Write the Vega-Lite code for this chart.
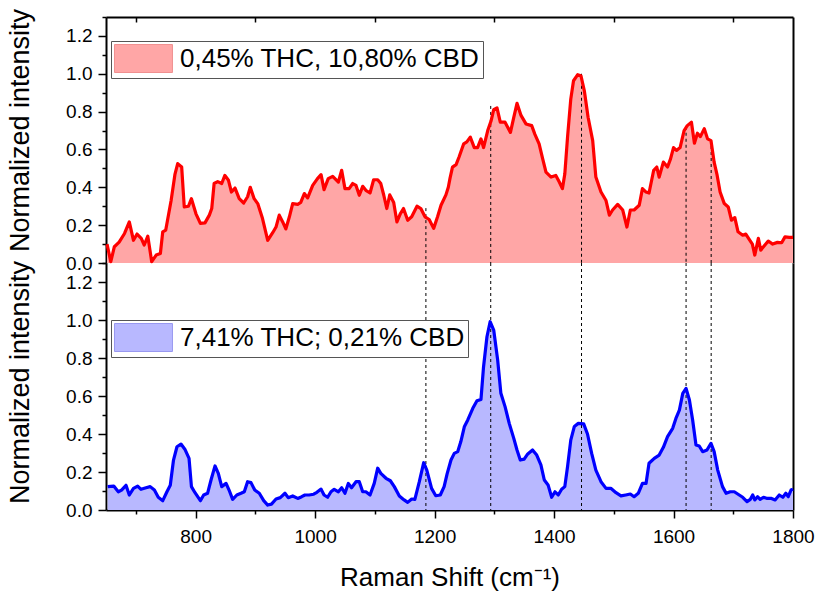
{
  "$schema": "https://vega.github.io/schema/vega-lite/v6.json",
  "background": "white",
  "padding": {"left": 6, "top": 8, "right": 5, "bottom": 2},
  "spacing": 0,
  "bounds": "flush",
  "config": {
    "view": {"stroke": null},
    "font": "Liberation Sans",
    "axis": {
      "domainColor": "black", "domainWidth": 2, "tickColor": "black", "tickWidth": 1.5,
      "labelColor": "black", "labelFont": "Liberation Sans", "labelFontSize": 19,
      "titleFont": "Liberation Sans", "titleFontSize": 26, "titleFontWeight": "normal", "titleColor": "black",
      "grid": false, "labelOverlap": false, "labelBound": false, "labelFlush": false
    },
    "legend": {
      "orient": "none", "labelFont": "Liberation Sans", "labelFontSize": 26, "labelColor": "black",
      "labelLimit": 600, "strokeColor": "#555555", "padding": 3, "fillColor": "white",
      "symbolType": "M-1,-1H3.14V1H-1Z", "symbolSize": 784, "labelOffset": 37, "symbolStrokeWidth": 1
    }
  },
  "resolve": {"scale": {"color": "independent"}, "legend": {"color": "independent"}},
  "datasets": {
    "top": [
      {"x":651.7,"y":0.10},{"x":658,"y":0.007},{"x":664,"y":0.086},{"x":672,"y":0.11},{"x":681,"y":0.156},{"x":689,"y":0.217},{"x":696,"y":0.12},{"x":702,"y":0.153},{"x":709,"y":0.13},{"x":714,"y":0.095},{"x":720,"y":0.142},{"x":726.5,"y":0.007},{"x":734,"y":0.042},{"x":741,"y":0.05},{"x":745,"y":0.165},{"x":750,"y":0.174},{"x":759,"y":0.33},{"x":765.5,"y":0.47},{"x":770,"y":0.525},{"x":776.7,"y":0.507},{"x":781,"y":0.296},{"x":788,"y":0.30},{"x":793,"y":0.34},{"x":800.6,"y":0.26},{"x":808,"y":0.209},{"x":815.7,"y":0.212},{"x":823,"y":0.253},{"x":827,"y":0.288},{"x":831,"y":0.42},{"x":837,"y":0.43},{"x":843.7,"y":0.42},{"x":849,"y":0.463},{"x":855,"y":0.437},{"x":860,"y":0.375},{"x":866,"y":0.396},{"x":873,"y":0.34},{"x":880.5,"y":0.317},{"x":887,"y":0.35},{"x":891.5,"y":0.40},{"x":898,"y":0.34},{"x":904,"y":0.314},{"x":912,"y":0.235},{"x":920.7,"y":0.12},{"x":929,"y":0.16},{"x":934.6,"y":0.19},{"x":940,"y":0.253},{"x":945.8,"y":0.217},{"x":951,"y":0.18},{"x":957,"y":0.244},{"x":962.5,"y":0.314},{"x":971,"y":0.31},{"x":976,"y":0.32},{"x":982,"y":0.367},{"x":987.6,"y":0.344},{"x":996,"y":0.41},{"x":1004,"y":0.446},{"x":1010,"y":0.467},{"x":1015,"y":0.388},{"x":1022,"y":0.446},{"x":1029.5,"y":0.458},{"x":1039,"y":0.428},{"x":1044.5,"y":0.49},{"x":1050,"y":0.393},{"x":1057,"y":0.393},{"x":1063,"y":0.42},{"x":1068.5,"y":0.41},{"x":1074,"y":0.358},{"x":1079.7,"y":0.405},{"x":1085,"y":0.384},{"x":1092,"y":0.37},{"x":1098,"y":0.44},{"x":1104.8,"y":0.44},{"x":1110,"y":0.42},{"x":1115,"y":0.358},{"x":1120,"y":0.288},{"x":1125,"y":0.36},{"x":1131.6,"y":0.32},{"x":1137,"y":0.217},{"x":1142.6,"y":0.26},{"x":1148,"y":0.288},{"x":1155,"y":0.226},{"x":1161.7,"y":0.244},{"x":1170.6,"y":0.30},{"x":1177,"y":0.288},{"x":1184,"y":0.244},{"x":1191,"y":0.23},{"x":1198.5,"y":0.183},{"x":1205,"y":0.244},{"x":1210.8,"y":0.305},{"x":1219,"y":0.36},{"x":1223,"y":0.40},{"x":1226,"y":0.45},{"x":1230,"y":0.507},{"x":1236,"y":0.52},{"x":1241,"y":0.56},{"x":1248.8,"y":0.63},{"x":1254,"y":0.64},{"x":1259.8,"y":0.665},{"x":1266.5,"y":0.61},{"x":1272,"y":0.61},{"x":1277.7,"y":0.656},{"x":1282,"y":0.61},{"x":1289,"y":0.70},{"x":1294.5,"y":0.75},{"x":1299,"y":0.81},{"x":1304.5,"y":0.82},{"x":1310,"y":0.744},{"x":1318,"y":0.744},{"x":1327,"y":0.69},{"x":1332.6,"y":0.77},{"x":1338,"y":0.844},{"x":1344.7,"y":0.78},{"x":1353,"y":0.735},{"x":1362.6,"y":0.726},{"x":1368,"y":0.68},{"x":1375,"y":0.63},{"x":1381,"y":0.55},{"x":1386.5,"y":0.48},{"x":1395,"y":0.454},{"x":1403,"y":0.463},{"x":1408.8,"y":0.428},{"x":1414,"y":0.393},{"x":1418,"y":0.47},{"x":1422.6,"y":0.665},{"x":1428,"y":0.866},{"x":1432.6,"y":0.963},{"x":1439.6,"y":0.995},{"x":1445,"y":0.99},{"x":1450.7,"y":0.91},{"x":1457,"y":0.77},{"x":1464.7,"y":0.647},{"x":1470,"y":0.454},{"x":1478.6,"y":0.375},{"x":1487,"y":0.33},{"x":1492.6,"y":0.253},{"x":1498,"y":0.28},{"x":1506.5,"y":0.31},{"x":1515,"y":0.28},{"x":1522,"y":0.19},{"x":1527.7,"y":0.28},{"x":1534,"y":0.28},{"x":1542.6,"y":0.305},{"x":1548,"y":0.393},{"x":1554,"y":0.375},{"x":1559,"y":0.37},{"x":1566.8,"y":0.49},{"x":1572,"y":0.507},{"x":1576,"y":0.454},{"x":1583,"y":0.533},{"x":1590,"y":0.507},{"x":1595,"y":0.55},{"x":1600,"y":0.61},{"x":1605,"y":0.595},{"x":1611,"y":0.61},{"x":1617.7,"y":0.70},{"x":1623,"y":0.726},{"x":1630,"y":0.744},{"x":1635,"y":0.633},{"x":1640,"y":0.686},{"x":1645,"y":0.668},{"x":1651.5,"y":0.71},{"x":1657,"y":0.656},{"x":1662.7,"y":0.647},{"x":1668,"y":0.533},{"x":1672.6,"y":0.47},{"x":1678,"y":0.375},{"x":1685,"y":0.314},{"x":1691.6,"y":0.296},{"x":1697,"y":0.226},{"x":1702.6,"y":0.24},{"x":1708,"y":0.165},{"x":1715.8,"y":0.147},{"x":1721,"y":0.153},{"x":1726.7,"y":0.125},{"x":1732,"y":0.10},{"x":1736,"y":0.042},{"x":1742,"y":0.13},{"x":1746,"y":0.068},{"x":1753,"y":0.095},{"x":1758.6,"y":0.116},{"x":1766,"y":0.10},{"x":1774,"y":0.109},{"x":1781,"y":0.107},{"x":1786.6,"y":0.138},{"x":1793.8,"y":0.135},{"x":1800,"y":0.135}
    ],
    "bottom": [
      {"x":652.8,"y":0.123},{"x":663,"y":0.126},{"x":670.6,"y":0.096},{"x":676,"y":0.105},{"x":683.5,"y":0.13},{"x":689,"y":0.079},{"x":696,"y":0.114},{"x":703,"y":0.126},{"x":708.6,"y":0.109},{"x":717,"y":0.117},{"x":724,"y":0.123},{"x":731,"y":0.105},{"x":737.5,"y":0.067},{"x":745,"y":0.049},{"x":752,"y":0.096},{"x":757.6,"y":0.13},{"x":763,"y":0.263},{"x":768.8,"y":0.333},{"x":775.5,"y":0.347},{"x":782,"y":0.32},{"x":789,"y":0.272},{"x":793,"y":0.123},{"x":799,"y":0.091},{"x":808,"y":0.049},{"x":813.5,"y":0.079},{"x":820,"y":0.088},{"x":825.8,"y":0.158},{"x":832.5,"y":0.232},{"x":838,"y":0.193},{"x":843.7,"y":0.123},{"x":851,"y":0.14},{"x":856,"y":0.105},{"x":862,"y":0.056},{"x":869,"y":0.079},{"x":876,"y":0.088},{"x":881.5,"y":0.096},{"x":887,"y":0.149},{"x":892.7,"y":0.144},{"x":899,"y":0.105},{"x":906.6,"y":0.088},{"x":914,"y":0.049},{"x":920.7,"y":0.026},{"x":927,"y":0.031},{"x":934.6,"y":0.058},{"x":941.8,"y":0.065},{"x":949.6,"y":0.088},{"x":955,"y":0.065},{"x":962.5,"y":0.074},{"x":971,"y":0.061},{"x":977.6,"y":0.07},{"x":983,"y":0.079},{"x":990,"y":0.079},{"x":997.6,"y":0.083},{"x":1003,"y":0.093},{"x":1010,"y":0.11},{"x":1015,"y":0.079},{"x":1021,"y":0.067},{"x":1026.6,"y":0.096},{"x":1032,"y":0.109},{"x":1039,"y":0.096},{"x":1044.5,"y":0.117},{"x":1050,"y":0.088},{"x":1055.6,"y":0.14},{"x":1061,"y":0.117},{"x":1068.5,"y":0.149},{"x":1074,"y":0.149},{"x":1079.7,"y":0.096},{"x":1085,"y":0.096},{"x":1092,"y":0.079},{"x":1099,"y":0.14},{"x":1104.8,"y":0.22},{"x":1110,"y":0.193},{"x":1118.7,"y":0.167},{"x":1126,"y":0.154},{"x":1132.6,"y":0.123},{"x":1141,"y":0.074},{"x":1149,"y":0.053},{"x":1155,"y":0.04},{"x":1161.7,"y":0.058},{"x":1167,"y":0.056},{"x":1174.5,"y":0.149},{"x":1181.8,"y":0.249},{"x":1187,"y":0.21},{"x":1195,"y":0.114},{"x":1202,"y":0.075},{"x":1209.6,"y":0.079},{"x":1216,"y":0.123},{"x":1221,"y":0.19},{"x":1227.5,"y":0.263},{"x":1233,"y":0.298},{"x":1238.7,"y":0.307},{"x":1244,"y":0.36},{"x":1250,"y":0.44},{"x":1255.6,"y":0.474},{"x":1264,"y":0.535},{"x":1271,"y":0.575},{"x":1277.7,"y":0.582},{"x":1282,"y":0.754},{"x":1287.7,"y":0.912},{"x":1293,"y":0.991},{"x":1299,"y":0.947},{"x":1305.6,"y":0.79},{"x":1311,"y":0.614},{"x":1318,"y":0.544},{"x":1325,"y":0.456},{"x":1332.6,"y":0.377},{"x":1338,"y":0.316},{"x":1343.5,"y":0.263},{"x":1350,"y":0.268},{"x":1356,"y":0.295},{"x":1364,"y":0.316},{"x":1371,"y":0.289},{"x":1378,"y":0.237},{"x":1383.7,"y":0.158},{"x":1390,"y":0.132},{"x":1396,"y":0.067},{"x":1401.6,"y":0.096},{"x":1407,"y":0.079},{"x":1412.7,"y":0.109},{"x":1418,"y":0.123},{"x":1422.6,"y":0.228},{"x":1428,"y":0.368},{"x":1434,"y":0.44},{"x":1440.6,"y":0.456},{"x":1449.6,"y":0.453},{"x":1456,"y":0.40},{"x":1463,"y":0.298},{"x":1470,"y":0.21},{"x":1478.6,"y":0.149},{"x":1487,"y":0.114},{"x":1495,"y":0.114},{"x":1503.7,"y":0.091},{"x":1512,"y":0.074},{"x":1520,"y":0.079},{"x":1527.7,"y":0.084},{"x":1534,"y":0.07},{"x":1541,"y":0.088},{"x":1548,"y":0.14},{"x":1554,"y":0.14},{"x":1559,"y":0.246},{"x":1567.8,"y":0.272},{"x":1576,"y":0.289},{"x":1583,"y":0.33},{"x":1590,"y":0.386},{"x":1598.6,"y":0.43},{"x":1604,"y":0.482},{"x":1609.8,"y":0.526},{"x":1615.5,"y":0.614},{"x":1621,"y":0.64},{"x":1626.6,"y":0.579},{"x":1632,"y":0.474},{"x":1637.6,"y":0.342},{"x":1643,"y":0.337},{"x":1648.8,"y":0.307},{"x":1656,"y":0.316},{"x":1662.7,"y":0.351},{"x":1668,"y":0.307},{"x":1674,"y":0.21},{"x":1682,"y":0.123},{"x":1688,"y":0.088},{"x":1695,"y":0.096},{"x":1701.7,"y":0.096},{"x":1710,"y":0.079},{"x":1715.8,"y":0.067},{"x":1723,"y":0.044},{"x":1728.6,"y":0.056},{"x":1732.5,"y":0.079},{"x":1736,"y":0.053},{"x":1740.6,"y":0.07},{"x":1745,"y":0.056},{"x":1750.6,"y":0.067},{"x":1757,"y":0.061},{"x":1764,"y":0.061},{"x":1770,"y":0.053},{"x":1777,"y":0.079},{"x":1783,"y":0.067},{"x":1788,"y":0.088},{"x":1792,"y":0.07},{"x":1796.7,"y":0.105},{"x":1800,"y":0.11}
    ],
    "peaks": [
      {"x":1185.5,"top":0.29},{"x":1294,"top":0.83},{"x":1446,"top":1.0},{"x":1621,"top":0.72},{"x":1663,"top":0.65}
    ]
  },
  "vconcat": [
    {
      "width": 687, "height": 246,
      "resolve": {"axis": {"y": "independent"}},
      "encoding": {
        "x": {"field": "x", "type": "quantitative",
          "scale": {"domain": [650, 1800], "nice": false, "zero": false},
          "axis": {"orient": "top", "values": [700, 900, 1100, 1300, 1500, 1700], "labels": false, "tickSize": -5, "title": null}}
      },
      "layer": [
        {
          "data": {"name": "top"},
          "mark": {"type": "area", "opacity": 1},
          "encoding": {
            "y": {"field": "y", "type": "quantitative",
              "scale": {"domain": [0, 1.3], "nice": false, "zero": true},
              "axis": {"orient": "left", "title": "Normalized intensity", "titleFontSize": 27,
                "values": [0, 0.1, 0.2, 0.3, 0.4, 0.5, 0.6, 0.7, 0.8, 0.9, 1, 1.1, 1.2, 1.3],
                "labelExpr": "round(datum.value*10)%2==0 ? format(datum.value,'.1f') : ''",
                "tickSize": {"condition": {"test": "round(datum.value*10)%2==0", "value": 8}, "value": 4},
                "labelPadding": 6, "titlePadding": 31, "titleY": 113}},
            "color": {"datum": "0,45% THC, 10,80% CBD", "scale": {"range": ["#FFA6A6"]},
              "legend": {"title": null, "legendX": 5, "legendY": 24, "symbolStrokeColor": "#F09090"}}
          }
        },
        {
          "data": {"name": "peaks"},
          "mark": {"type": "rule", "color": "black", "strokeWidth": 1, "strokeDash": [3, 3]},
          "encoding": {
            "y": {"field": "top", "type": "quantitative", "axis": null},
            "y2": {"datum": 0}
          }
        },
        {
          "data": {"name": "top"},
          "mark": {"type": "line", "color": "#FF0000", "strokeWidth": 3.2, "strokeJoin": "round"},
          "encoding": {
            "y": {"field": "y", "type": "quantitative",
              "axis": {"orient": "right", "labels": false, "ticks": false, "title": null}}
          }
        }
      ]
    },
    {
      "width": 687, "height": 247,
      "resolve": {"axis": {"y": "independent"}},
      "encoding": {
        "x": {"field": "x", "type": "quantitative",
          "scale": {"domain": [650, 1800], "nice": false, "zero": false},
          "axis": {"orient": "bottom", "title": "Raman Shift (cm⁻¹)",
            "values": [700, 800, 900, 1000, 1100, 1200, 1300, 1400, 1500, 1600, 1700, 1800],
            "labelExpr": "datum.value % 200 == 0 ? format(datum.value,'d') : ''",
            "tickSize": {"condition": {"test": "datum.value % 200 == 0", "value": 8}, "value": 4},
            "labelPadding": 9, "titlePadding": 18}}
      },
      "layer": [
        {
          "data": {"name": "bottom"},
          "mark": {"type": "area", "opacity": 1},
          "encoding": {
            "y": {"field": "y", "type": "quantitative",
              "scale": {"domain": [0, 1.3], "nice": false, "zero": true},
              "axis": {"orient": "left", "title": "Normalized intensity", "titleFontSize": 27,
                "values": [0, 0.1, 0.2, 0.3, 0.4, 0.5, 0.6, 0.7, 0.8, 0.9, 1, 1.1, 1.2, 1.3],
                "labelExpr": "round(datum.value*10)%2==0 ? format(datum.value,'.1f') : ''",
                "tickSize": {"condition": {"test": "round(datum.value*10)%2==0", "value": 8}, "value": 4},
                "labelPadding": 6, "titlePadding": 31, "titleY": 119}},
            "color": {"datum": "7,41% THC; 0,21% CBD", "scale": {"range": ["#B8B8FF"]},
              "legend": {"title": null, "legendX": 5, "legendY": 57, "symbolStrokeColor": "#9898F0"}}
          }
        },
        {
          "data": {"name": "peaks"},
          "mark": {"type": "rule", "color": "black", "strokeWidth": 1, "strokeDash": [3, 3]},
          "encoding": {
            "y": {"datum": 1.3, "type": "quantitative", "axis": null},
            "y2": {"datum": 0}
          }
        },
        {
          "data": {"name": "bottom"},
          "mark": {"type": "line", "color": "#0000FF", "strokeWidth": 3.2, "strokeJoin": "round"},
          "encoding": {
            "y": {"field": "y", "type": "quantitative",
              "axis": {"orient": "right", "labels": false, "ticks": false, "title": null}}
          }
        }
      ]
    }
  ]
}
